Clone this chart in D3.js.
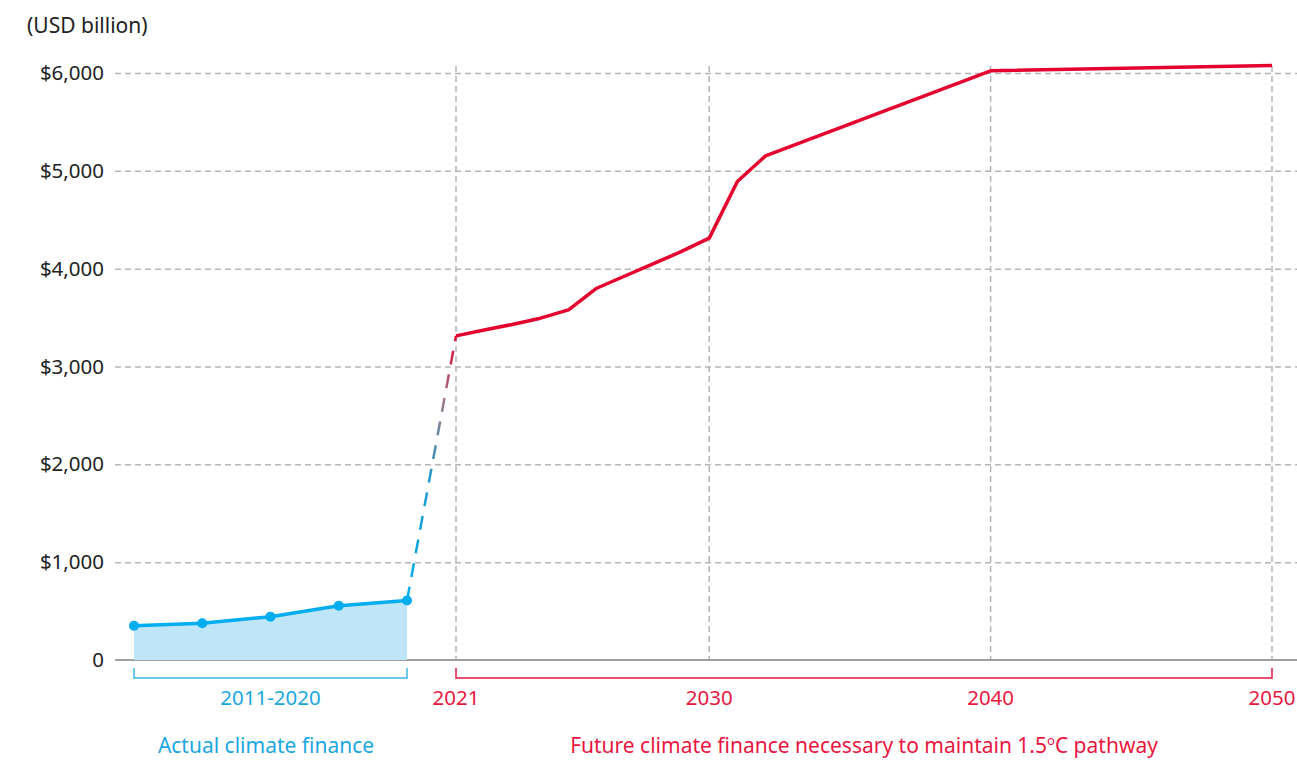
<!DOCTYPE html>
<html>
<head>
<meta charset="utf-8">
<script src="https://cdn.jsdelivr.net/npm/d3@7"></script>
<style>
	body { margin: 0; background: #fff; }
	svg text { font-family: 'Noto Sans', sans-serif; }
</style>
</head>
<body>
<div id="chart"></div>
<script>
var w = 1297;
var h = 760;

// actual climate finance, 2-year averages 2011-2020
var actualPeriods = ['2011/12', '2013/14', '2015/16', '2017/18', '2019/20'];
var actualValues = [350, 375, 443, 555, 608];

// future climate finance needed for 1.5C pathway
var futureYears = [2021, 2022, 2023, 2024, 2025, 2026, 2027, 2028, 2029, 2030, 2031, 2032, 2040, 2050];
var futureValues = [3313, 3373, 3430, 3494, 3579, 3800, 3925, 4049, 4174, 4312, 4891, 5153, 6022, 6077];

var yTicks = [0, 1000, 2000, 3000, 4000, 5000, 6000];
var xTickYears = [2021, 2030, 2040, 2050];

var blue = '#00aeef';
var blueText = '#1ba7e0';
var red = '#e4032e';
var redText = '#e8173f';

var y = d3.scaleLinear().domain([0, 6000]).range([660, 73]);
var xActual = d3.scalePoint().domain(actualPeriods).range([134, 407]);
var xFuture = d3.scaleLinear().domain([2021, 2050]).range([456, 1272]);

var svg = d3.select('#chart')
	.append('svg')
	.attr('width', w)
	.attr('height', h);

var defs = svg.append('defs');

// horizontal gridlines + labels
var yAxis = d3.axisLeft(y)
	.tickValues(yTicks)
	.tickSize(-(w - 115))
	.tickPadding(11)
	.tickFormat(function (d) { return d === 0 ? '0' : '$' + d3.format(',')(d); });

var gy = svg.append('g')
	.attr('transform', 'translate(115,0)')
	.call(yAxis);
gy.select('.domain').remove();
gy.selectAll('.tick line')
	.attr('stroke', '#b5b5b5')
	.attr('stroke-width', 1.5)
	.attr('stroke-dasharray', '6,4');
gy.selectAll('.tick text')
	.attr('font-size', '20.5px')
	.attr('fill', '#222');
gy.selectAll('.tick').filter(function (d) { return d === 0; }).select('line').remove();

// vertical gridlines at future years
svg.selectAll('.vgrid')
	.data(xTickYears)
	.enter()
	.append('line')
	.attr('class', 'vgrid')
	.attr('x1', function (d) { return xFuture(d); })
	.attr('x2', function (d) { return xFuture(d); })
	.attr('y1', 66)
	.attr('y2', 660)
	.attr('stroke', '#b5b5b5')
	.attr('stroke-width', 1.5)
	.attr('stroke-dasharray', '6,4');

// baseline
svg.append('line')
	.attr('x1', 115)
	.attr('x2', w)
	.attr('y1', y(0))
	.attr('y2', y(0))
	.attr('stroke', '#a0a0a0')
	.attr('stroke-width', 2);

// actual area + line
var actual = actualPeriods.map(function (p, i) { return { p: p, v: actualValues[i] }; });

var area = d3.area()
	.x(function (d) { return xActual(d.p); })
	.y0(y(0))
	.y1(function (d) { return y(d.v); });

svg.append('path')
	.attr('d', area(actual))
	.attr('fill', '#bfe6f8');

var actualLine = d3.line()
	.x(function (d) { return xActual(d.p); })
	.y(function (d) { return y(d.v); });

svg.append('path')
	.attr('d', actualLine(actual))
	.attr('stroke', blue)
	.attr('stroke-width', 3.5)
	.attr('fill', 'none');

svg.selectAll('.dot')
	.data(actual)
	.enter()
	.append('circle')
	.attr('class', 'dot')
	.attr('cx', function (d) { return xActual(d.p); })
	.attr('cy', function (d) { return y(d.v); })
	.attr('r', 5)
	.attr('fill', blue);

// dashed connector, blue -> red
var last = actual[actual.length - 1];
var x0 = xActual(last.p), y0 = y(last.v);
var x1 = xFuture(futureYears[0]), y1 = y(futureValues[0]);

var grad = defs.append('linearGradient')
	.attr('id', 'connGrad')
	.attr('gradientUnits', 'userSpaceOnUse')
	.attr('x1', x0).attr('y1', y0)
	.attr('x2', x1).attr('y2', y1);
grad.append('stop').attr('offset', '0%').attr('stop-color', blue);
grad.append('stop').attr('offset', '45%').attr('stop-color', '#1f9ccc');
grad.append('stop').attr('offset', '75%').attr('stop-color', '#9a7a88');
grad.append('stop').attr('offset', '100%').attr('stop-color', red);

svg.append('line')
	.attr('x1', x0).attr('y1', y0)
	.attr('x2', x1).attr('y2', y1)
	.attr('stroke', 'url(#connGrad)')
	.attr('stroke-width', 2.5)
	.attr('stroke-dasharray', '14,10');

// future line
var future = futureYears.map(function (yr, i) { return { yr: yr, v: futureValues[i] }; });

var futureLine = d3.line()
	.x(function (d) { return xFuture(d.yr); })
	.y(function (d) { return y(d.v); });

svg.append('path')
	.attr('d', futureLine(future))
	.attr('stroke', red)
	.attr('stroke-width', 3.5)
	.attr('stroke-linejoin', 'round')
	.attr('fill', 'none');

// brackets under the axis
function bracket(xa, xb, color) {
	svg.append('path')
		.attr('d', 'M' + xa + ',668 V678 H' + xb + ' V668')
		.attr('stroke', color)
		.attr('stroke-width', 1.5)
		.attr('fill', 'none');
}
bracket(xActual(actualPeriods[0]), xActual(actualPeriods[actualPeriods.length - 1]), '#3db6e6');
bracket(xFuture(2021), xFuture(2050), redText);

svg.append('text')
	.attr('x', (xActual(actualPeriods[0]) + xActual(actualPeriods[actualPeriods.length - 1])) / 2)
	.attr('y', 705)
	.attr('text-anchor', 'middle')
	.attr('font-size', '20.5px')
	.attr('fill', blueText)
	.text('2011-2020');

svg.selectAll('.yr')
	.data(xTickYears)
	.enter()
	.append('text')
	.attr('class', 'yr')
	.attr('x', function (d) { return xFuture(d); })
	.attr('y', 705)
	.attr('text-anchor', 'middle')
	.attr('font-size', '20.5px')
	.attr('fill', redText)
	.text(function (d) { return d; });

svg.append('text')
	.attr('x', 266)
	.attr('y', 753)
	.attr('text-anchor', 'middle')
	.attr('font-size', '21px')
	.attr('fill', blueText)
	.text('Actual climate finance');

var fut = svg.append('text')
	.attr('x', 864)
	.attr('y', 753)
	.attr('text-anchor', 'middle')
	.attr('font-size', '21px')
	.attr('fill', redText);
fut.append('tspan').text('Future climate finance necessary to maintain 1.5');
fut.append('tspan').attr('font-size', '13px').attr('dy', -8).text('o');
fut.append('tspan').attr('dy', 8).text('C pathway');

svg.append('text')
	.attr('x', 27)
	.attr('y', 33)
	.attr('font-size', '21px')
	.attr('fill', '#222')
	.text('(USD billion)');
</script>
</body>
</html>
